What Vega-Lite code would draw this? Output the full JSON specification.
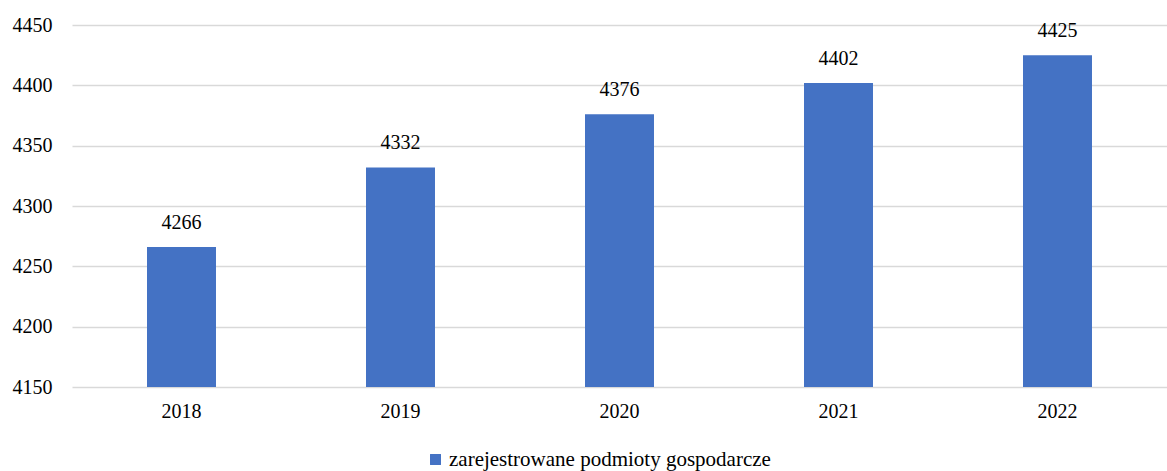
{
  "$schema": "https://vega.github.io/schema/vega-lite/v6.json",
  "width": 1095,
  "height": 362,
  "autosize": {"type": "none"},
  "padding": {"left": 72, "top": 25, "right": 0, "bottom": 84},
  "background": "white",
  "config": {
    "view": {"stroke": null},
    "font": "Liberation Serif",
    "text": {"font": "Liberation Serif"},
    "legend": {"labelFont": "Liberation Serif"},
    "axis": {"labelFont": "Liberation Serif"}
  },
  "data": {
    "values": [
      {"rok": "2018", "wartosc": 4266, "seria": "zarejestrowane podmioty gospodarcze"},
      {"rok": "2019", "wartosc": 4332, "seria": "zarejestrowane podmioty gospodarcze"},
      {"rok": "2020", "wartosc": 4376, "seria": "zarejestrowane podmioty gospodarcze"},
      {"rok": "2021", "wartosc": 4402, "seria": "zarejestrowane podmioty gospodarcze"},
      {"rok": "2022", "wartosc": 4425, "seria": "zarejestrowane podmioty gospodarcze"}
    ]
  },
  "encoding": {
    "x": {
      "field": "rok", "type": "nominal",
      "scale": {"paddingInner": 0.685, "paddingOuter": 0.3425},
      "axis": {"title": null, "labelAngle": 0, "domain": false, "ticks": false, "labelPadding": 14, "labelFont": "Liberation Serif", "labelFontSize": 20, "labelColor": "#000000"}
    },
    "y": {
      "field": "wartosc", "type": "quantitative",
      "scale": {"domain": [4150, 4450], "zero": false, "nice": false},
      "axis": {"title": null, "format": "d", "values": [4150, 4200, 4250, 4300, 4350, 4400, 4450], "domain": false, "ticks": false, "labelPadding": 20, "gridColor": "#d9d9d9", "gridWidth": 1.5, "labelFont": "Liberation Serif", "labelFontSize": 20, "labelColor": "#000000"}
    }
  },
  "layer": [
    {
      "mark": {"type": "bar", "clip": true},
      "encoding": {
        "color": {
          "field": "seria", "type": "nominal",
          "scale": {"range": ["#4472C4"]},
          "legend": {
            "title": null, "orient": "none", "legendX": 353, "legendY": 424,
            "symbolType": "square", "symbolSize": 120, "symbolStrokeWidth": 0, "labelLimit": 0,
            "labelFont": "Liberation Serif", "labelFontSize": 21, "labelColor": "#000000", "labelOffset": 3
          }
        }
      }
    },
    {
      "mark": {"type": "text", "baseline": "bottom", "dy": -14, "font": "Liberation Serif", "fontSize": 20, "color": "#000000"},
      "encoding": {"text": {"field": "wartosc", "type": "quantitative", "format": "d"}}
    }
  ]
}
